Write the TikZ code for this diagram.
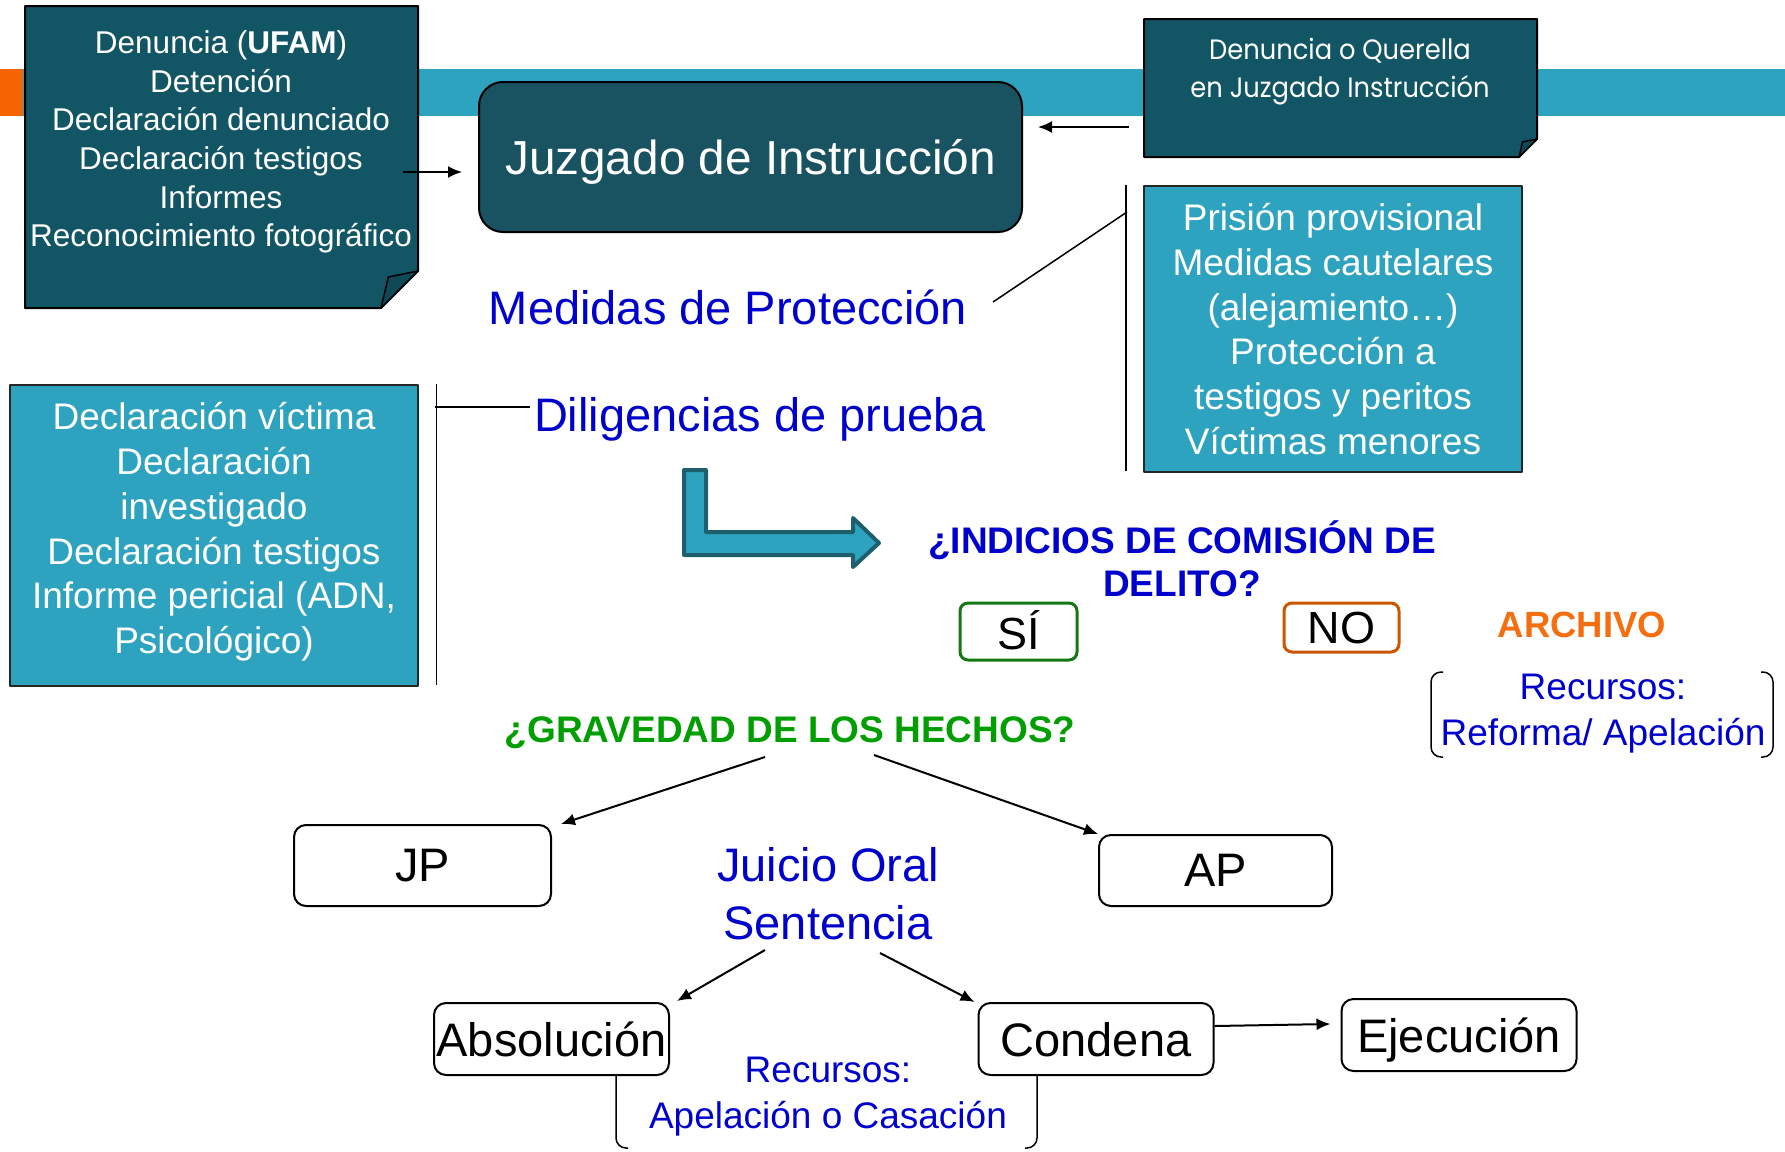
\documentclass[tikz,border=0pt]{standalone}
\usepackage{fontspec}
\setmainfont{Liberation Sans}
\newfontfamily\gothfont[FakeStretch=0.92]{Poppins}
\usetikzlibrary{arrows.meta}
\definecolor{barteal}{RGB}{46,163,192}
\definecolor{barorange}{RGB}{245,100,0}
\definecolor{notefill}{RGB}{18,86,102}
\definecolor{juzfill}{RGB}{25,82,96}
\definecolor{arrowedge}{RGB}{30,95,110}
\definecolor{lblblue}{RGB}{0,0,204}
\definecolor{lblgreen}{RGB}{0,158,0}
\definecolor{sigreen}{RGB}{20,120,20}
\definecolor{nobrown}{RGB}{204,85,0}
\definecolor{archorange}{RGB}{245,110,15}
% folded note: x1,y1,x2,y2,fold
\newcommand\foldnote[5]{%
  \filldraw[fill=notefill, draw=black, line width=2pt] (#1,#2) -- (#3,#2) -- (#3,#4-#5) -- (#3-#5,#4) -- (#1,#4) -- cycle;
  \filldraw[fill=notefill!85!black, draw=black, line width=1.5pt] (#3,#4-#5) -- (#3-0.8*#5,#4-0.84*#5) -- (#3-#5,#4) -- cycle;}
% bracket pair: x1,y1,x2,y2
\newcommand\brackpair[4]{%
  \draw[line width=1.5pt, rounded corners=10pt] (#1+12,#2) -- (#1,#2) -- (#1,#4) -- (#1+12,#4);
  \draw[line width=1.5pt, rounded corners=10pt] (#3-12,#2) -- (#3,#2) -- (#3,#4) -- (#3-12,#4);}
\tikzset{
  notetxt/.style={text=white, align=center, font=\fontsize{31.5}{38.6}\selectfont},
  tealbox/.style={draw=black!85, line width=2.5pt, fill=barteal, inner sep=0pt},
  tealtxt/.style={text=white, align=center, font=\fontsize{37}{44.8}\selectfont},
  bluelbl/.style={text=lblblue, align=center, font=\fontsize{47}{58}\selectfont},
  smalllbl/.style={text=lblblue, align=center, font=\fontsize{37}{46}\selectfont},
  wbox/.style={draw, line width=2pt, rounded corners=12pt, fill=white, inner sep=0pt, text depth=0pt, font=\fontsize{47}{56}\selectfont},
  conn/.style={line width=2pt, ->},
}
\begin{document}
\begin{tikzpicture}[x=1pt, y=-1pt, line join=round, >={Latex[length=14pt,width=12pt]}]
\useasboundingbox (0,0) rectangle (1785,1151);
% top bar
\fill[barorange] (0,69) rectangle (23,116);
\fill[barteal] (23,69) rectangle (1785,116);

% notes and judge
\foldnote{25}{6}{418}{308}{37}
\foldnote{1144}{19}{1537}{157}{18}
\node[notetxt] (ufam) at (221,142) {Denuncia (\textbf{UFAM})\\Detención\\Declaración denunciado\\Declaración testigos\\Informes\\Reconocimiento fotográfico};
\node[notetxt, font=\gothfont\fontsize{28}{38}\selectfont] (quer) at (1340,72) {Denuncia o Querella\\en Juzgado Instrucción};
\node[draw=black, line width=2pt, fill=juzfill, rounded corners=24pt, minimum width=543pt, minimum height=150pt, text=white, text height=44pt, text depth=10pt, font=\fontsize{47.7}{56}\selectfont] (juz) at (750.5,157) {Juzgado de Instrucción};
\coordinate (ufamout) at (403,172);
\coordinate (juzin) at (462,172);
\coordinate (querout) at (1129,127);
\coordinate (juzin2) at (1038,127);
\draw[conn] (ufamout) -- (juzin);
\draw[conn] (querout) -- (juzin2);

% medidas / diligencias
\node[tealbox, minimum width=378pt, minimum height=286pt] (prision) at (1333,329) {};
\node[tealtxt] (prisiontxt) at (prision.center) {Prisión provisional\\Medidas cautelares\\(alejamiento…)\\Protección a\\testigos y peritos\\Víctimas menores};
\node[tealbox, minimum width=408pt, minimum height=301pt] (decl) at (214,535.5) {};
\node[tealtxt] (decltxt) at ([yshift=3.5pt]decl.center) {Declaración víctima\\Declaración\\investigado\\Declaración testigos\\Informe pericial (ADN,\\Psicológico)};
\node[bluelbl] (medidas) at (728,307) {Medidas de Protección};
\node[bluelbl] (dilig) at (760,419) {Diligencias de prueba};
\coordinate (medR) at (993,302);
\coordinate (medT) at (1127,212);
\draw[line width=1.5pt] (medR) -- (medT);
\draw[line width=1.5pt] (prision.north west) ++(-17,0) -- ++(0,286);
\coordinate (digL) at (435,407);
\draw[line width=1.5pt] (decl.north east) ++(17,0) -- ++(0,301);
\draw[line width=1.5pt] (digL) -- (dilig.west |- digL);

% bent arrow
\filldraw[fill=barteal, draw=arrowedge, line width=4pt] (684,470) -- (706,470) -- (706,532) -- (853,532) -- (853,518) -- (879,543) -- (853,567) -- (853,555) -- (684,555) -- cycle;

% indicios
\node[text=lblblue, align=center, font=\bfseries\fontsize{37}{43}\selectfont] (indicios) at (1182,558.5) {¿INDICIOS DE COMISIÓN DE\\DELITO?};
\node[wbox, draw=sigreen, line width=3pt, rounded corners=8pt, minimum width=117pt, minimum height=57pt, text depth=3pt, font=\fontsize{45}{54}\selectfont] (si) at (1018.5,631.5) {SÍ};
\node[wbox, draw=nobrown, line width=3pt, rounded corners=8pt, minimum width=115pt, minimum height=49pt, font=\fontsize{45}{54}\selectfont] (no) at (1341.5,627.5) {NO};
\node[text=archorange, font=\bfseries\fontsize{36.5}{44}\selectfont] (archivo) at (1582,625) {ARCHIVO};
\brackpair{1431}{672}{1773}{757}
\node[smalllbl] (recref) at (1603,713.5) {Recursos:\\Reforma/ Apelación};

% gravedad
\node[text=lblgreen, font=\bfseries\fontsize{37}{44}\selectfont] (grav) at (790,732.5) {¿GRAVEDAD DE LOS HECHOS?};
\node[wbox, minimum width=257pt, minimum height=81pt] (jp) at (422.5,865.5) {JP};
\node[wbox, minimum width=233pt, minimum height=71pt] (ap) at (1215.5,870.5) {AP};
\node[bluelbl] (juicio) at (828,894) {Juicio Oral\\Sentencia};
\coordinate (gravL) at (765,757);
\coordinate (gravR) at (874,755);
\draw[conn] (gravL) -- ([xshift=9pt]jp.north east);
\draw[conn] (gravR) -- (ap.north west);

% sentencia
\brackpair{616}{1040}{1037}{1148}
\node[wbox, minimum width=235pt, minimum height=72pt] (abs) at (551.5,1039) {Absolución};
\node[wbox, minimum width=235pt, minimum height=72pt] (cond) at (1096,1039) {Condena};
\node[wbox, minimum width=235pt, minimum height=72pt] (ejec) at (1459,1035) {Ejecución};
\node[smalllbl] (recap) at (828,1097) {Recursos:\\Apelación o Casación};
\coordinate (sentL) at (765,950);
\coordinate (sentR) at (880,953);
\draw[conn] (sentL) -- ([xshift=7pt,yshift=1pt]abs.north east);
\draw[conn] (sentR) -- ([xshift=-3pt]cond.north west);
\draw[conn] ([yshift=13pt]cond.east) -- ([xshift=-10pt,yshift=11pt]ejec.west);
\end{tikzpicture}
\end{document}
